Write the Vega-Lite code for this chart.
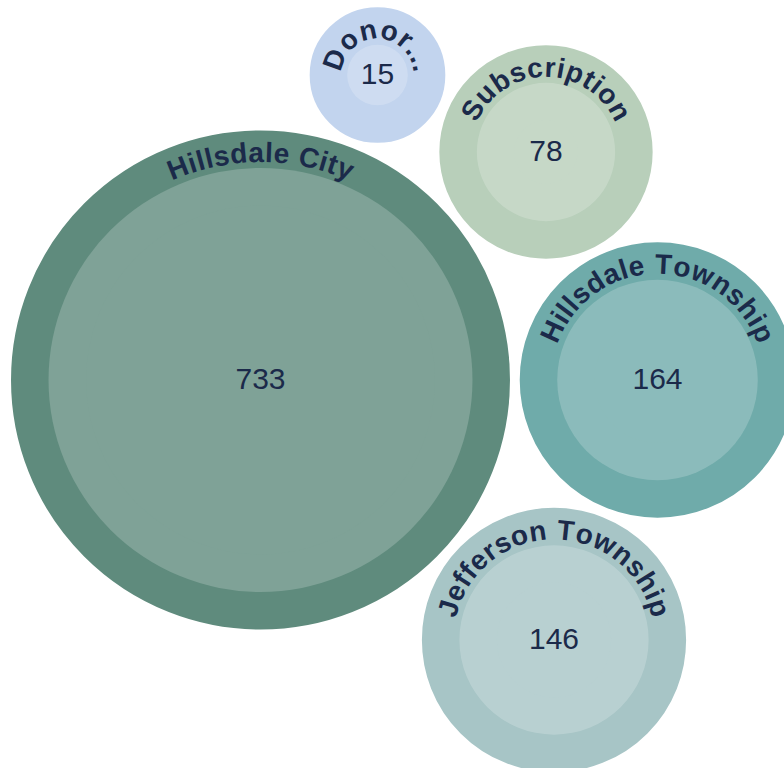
{
  "$schema": "https://vega.github.io/schema/vega-lite/v6.json",
  "width": 784,
  "height": 768,
  "autosize": {"type": "none"},
  "padding": 0,
  "background": "white",
  "config": {"view": {"stroke": null}},
  "data": {
    "values": [
      {"name": "Hillsdale City", "label": "Hillsdale City", "value": 733, "x": 260.5, "y": 380},
      {"name": "Donor", "label": "Donor...", "value": 15, "x": 377.5, "y": 75},
      {"name": "Subscription", "label": "Subscription", "value": 78, "x": 546, "y": 152},
      {"name": "Hillsdale Township", "label": "Hillsdale Township", "value": 164, "x": 657.5, "y": 380},
      {"name": "Jefferson Township", "label": "Jefferson Township", "value": 146, "x": 554, "y": 640}
    ]
  },
  "layer": [
    {
      "mark": {"type": "point", "shape": "circle", "filled": true, "opacity": 1, "strokeWidth": 75, "strokeOpacity": 1},
      "encoding": {
        "x": {"field": "x", "type": "quantitative", "scale": {"domain": [0, 784], "zero": false, "nice": false}, "axis": null},
        "y": {"field": "y", "type": "quantitative", "scale": {"domain": [0, 768], "zero": false, "nice": false, "reverse": true}, "axis": null},
        "size": {"field": "value", "type": "quantitative", "scale": {"domain": [0, 733], "range": [0, 179750], "zero": true}, "legend": null},
        "color": {"field": "name", "type": "nominal", "scale": {"domain": ["Hillsdale City", "Donor", "Subscription", "Hillsdale Township", "Jefferson Township"], "range": ["#5f8b7d", "#c2d4ee", "#b8cfba", "#6fabaa", "#a7c5c6"]}, "legend": null},
        "stroke": {"field": "name", "type": "nominal", "scale": {"domain": ["Hillsdale City", "Donor", "Subscription", "Hillsdale Township", "Jefferson Township"], "range": ["#5f8b7d", "#c2d4ee", "#b8cfba", "#6fabaa", "#a7c5c6"]}, "legend": null}
      }
    },
    {
      "mark": {"type": "point", "shape": "circle", "filled": true, "color": "white", "opacity": 0.2, "strokeWidth": 0},
      "encoding": {
        "x": {"field": "x", "type": "quantitative", "scale": {"domain": [0, 784], "zero": false, "nice": false}, "axis": null},
        "y": {"field": "y", "type": "quantitative", "scale": {"domain": [0, 768], "zero": false, "nice": false, "reverse": true}, "axis": null},
        "size": {"field": "value", "type": "quantitative", "scale": {"domain": [0, 733], "range": [0, 179750], "zero": true}, "legend": null}
      }
    },
    {
      "mark": {"type": "text", "font": "Liberation Sans", "fontSize": 30, "color": "#1b2a4a", "align": "center", "baseline": "middle"},
      "encoding": {
        "x": {"field": "x", "type": "quantitative", "scale": {"domain": [0, 784], "zero": false, "nice": false}, "axis": null},
        "y": {"field": "y", "type": "quantitative", "scale": {"domain": [0, 768], "zero": false, "nice": false, "reverse": true}, "axis": null},
        "text": {"field": "value", "type": "quantitative"}
      }
    },
    {
      "transform": [
        {"calculate": "split(datum.label, '')", "as": "chars"},
        {"flatten": ["chars"], "as": ["ch"]},
        {"calculate": "indexof('il. ', datum.ch) >= 0 ? 0.278 : indexof('tf', datum.ch) >= 0 ? 0.333 : datum.ch == 'r' ? 0.389 : indexof('bdhnopuT', datum.ch) >= 0 ? 0.611 : datum.ch == 'S' ? 0.667 : indexof('CDH', datum.ch) >= 0 ? 0.722 : datum.ch == 'w' ? 0.778 : 0.556", "as": "cw"},
        {"window": [{"op": "row_number", "as": "idx"}, {"op": "sum", "field": "cw", "as": "cum"}], "groupby": ["name"], "frame": [null, 0]},
        {"joinaggregate": [{"op": "sum", "field": "cw", "as": "tot"}, {"op": "count", "as": "n"}], "groupby": ["name"]},
        {"calculate": "7.83 * sqrt(datum.value) + 6", "as": "R"},
        {"calculate": "((datum.cum - datum.cw / 2 - datum.tot / 2) * 28 + (datum.idx - 1 - (datum.n - 1) / 2) * 0.5) / datum.R", "as": "a"},
        {"calculate": "datum.x + datum.R * sin(datum.a)", "as": "px"},
        {"calculate": "datum.y - datum.R * cos(datum.a)", "as": "py"},
        {"calculate": "datum.a * 180 / PI", "as": "deg"}
      ],
      "mark": {"type": "text", "font": "Liberation Sans", "fontSize": 28, "fontWeight": "bold", "color": "#1b2a4a", "align": "center", "baseline": "alphabetic"},
      "encoding": {
        "x": {"field": "px", "type": "quantitative", "scale": {"domain": [0, 784], "zero": false, "nice": false}, "axis": null},
        "y": {"field": "py", "type": "quantitative", "scale": {"domain": [0, 768], "zero": false, "nice": false, "reverse": true}, "axis": null},
        "text": {"field": "ch", "type": "nominal"},
        "angle": {"field": "deg", "type": "quantitative", "scale": null}
      }
    }
  ]
}
